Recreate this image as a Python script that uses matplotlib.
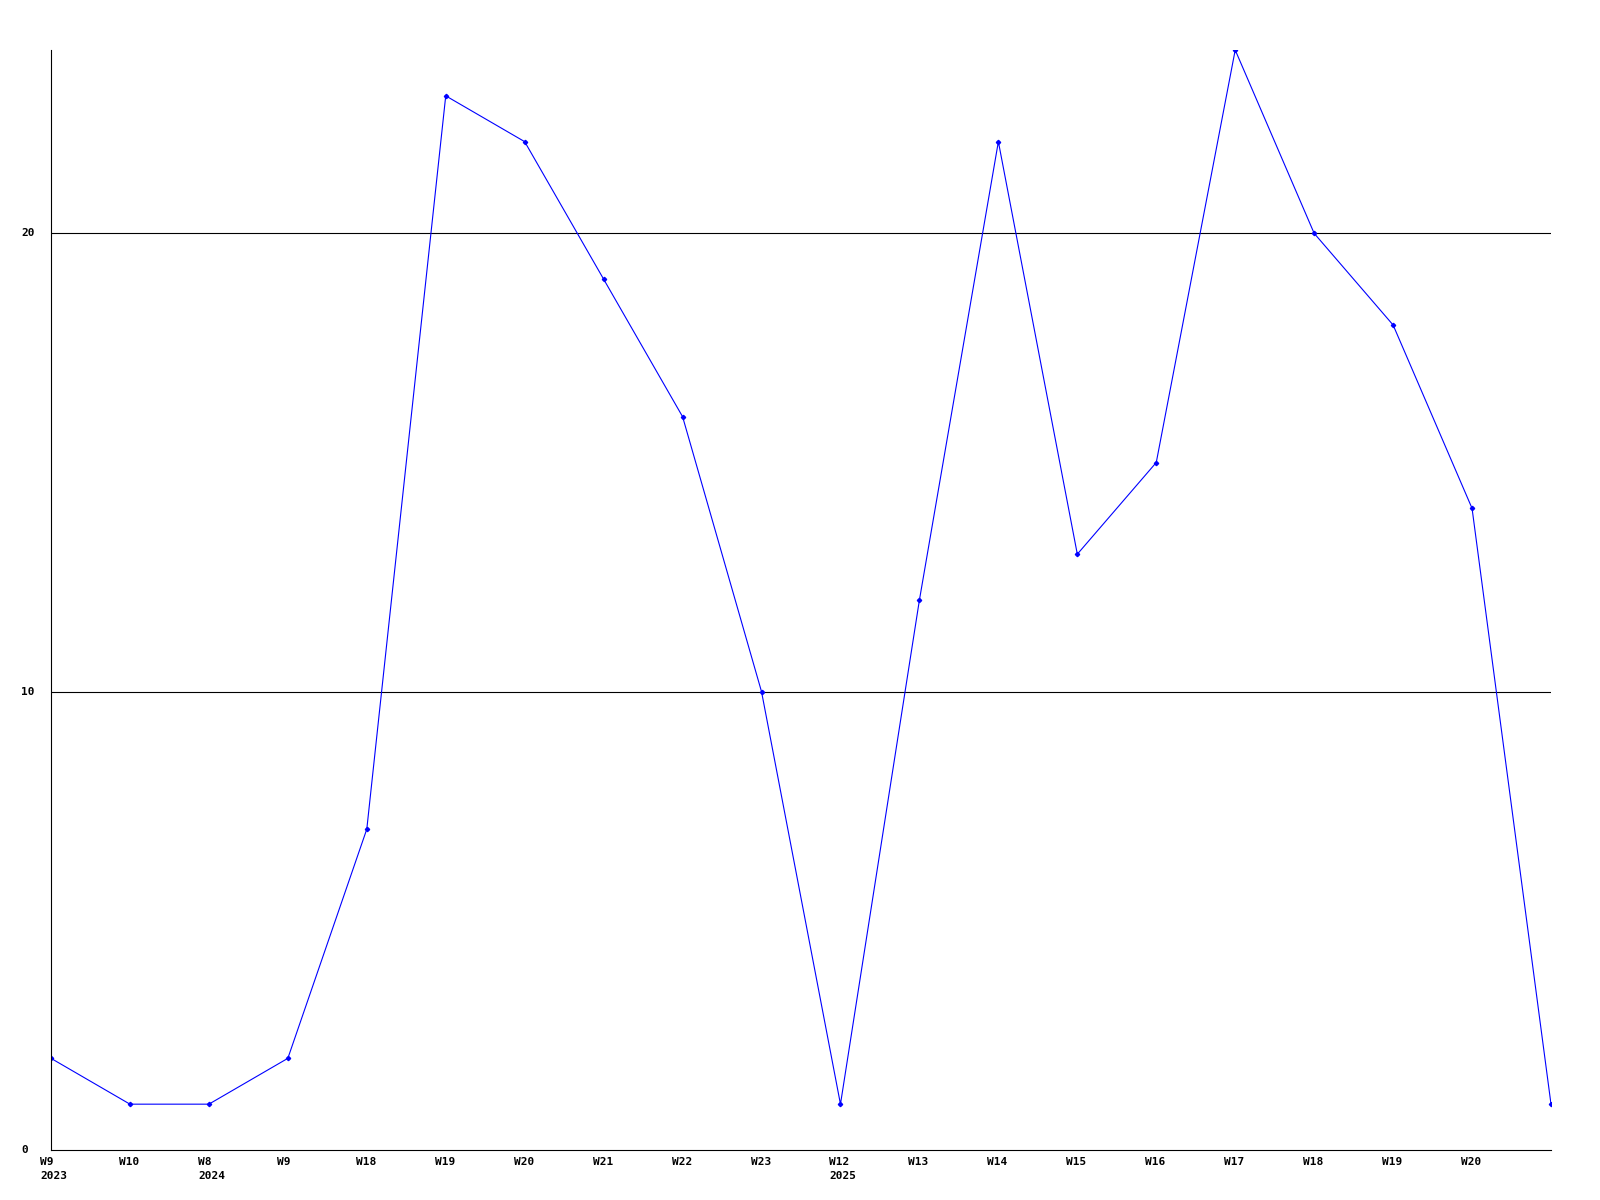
import matplotlib
matplotlib.use("Agg")
import matplotlib.pyplot as plt
import matplotlib.transforms as mtransforms

# ========= data =========
weeks = ["W9", "W10", "W8", "W9", "W18", "W19", "W20", "W21", "W22", "W23",
         "W12", "W13", "W14", "W15", "W16", "W17", "W18", "W19", "W20", ""]
years = ["2023", "", "2024", "", "", "", "", "", "", "",
         "2025", "", "", "", "", "", "", "", "", ""]
values = [2, 1, 1, 2, 7, 23, 22, 19, 16, 10, 1, 12, 22, 13, 15, 24, 20, 18, 14, 1]
y_ticks = [0, 10, 20]

fig = plt.figure(figsize=(16, 12), dpi=100)
ax = fig.add_axes([51 / 1600, 1 - 1150 / 1200, 1500 / 1600, 1100 / 1200])

x = list(range(len(values)))
ax.plot(x, values, color="#0000ff", linewidth=0.8, marker="D", markersize=2.2)

ax.set_xlim(0, len(values) - 1)
ax.set_ylim(0, 24)

for t in y_ticks[1:]:
    ax.axhline(t, color="black", linewidth=0.8, zorder=0)

for s in ["top", "right"]:
    ax.spines[s].set_visible(False)
for s in ["left", "bottom"]:
    ax.spines[s].set_linewidth(0.8)
    ax.spines[s].set_color("black")

ax.set_xticks([])
ax.set_yticks([])

font = dict(family="DejaVu Sans Mono", weight="bold", size=8)
shift = mtransforms.offset_copy(ax.transData, fig=fig, x=-11, y=-7, units="dots")
for i, (w, yr) in enumerate(zip(weeks, years)):
    label = w if not yr else w + "\n" + yr
    if label:
        ax.text(i, 0, label, transform=shift, ha="left", va="top",
                linespacing=1.5, **font)

yshift = mtransforms.offset_copy(ax.transData, fig=fig, x=-30, y=0, units="dots")
for t in y_ticks:
    ax.text(0, t, str(t), transform=yshift, ha="left", va="center", **font)

plt.savefig("out.png", dpi=100)
